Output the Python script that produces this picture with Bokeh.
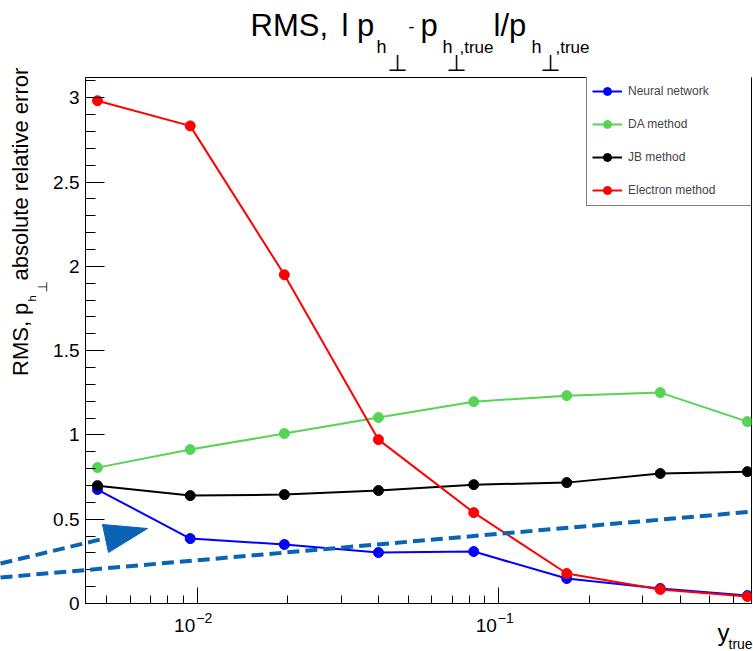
import math
from bokeh.plotting import figure
from bokeh.models import (Range1d, FixedTicker, Legend, LegendItem,
                          ColumnDataSource)
from bokeh.core.properties import value
from bokeh.embed import file_html
from bokeh.resources import INLINE

# ---------------- data ----------------
y_true = [0.00467, 0.00948, 0.01945, 0.0399, 0.0826, 0.168, 0.343, 0.667]
neural_network = [0.676, 0.385, 0.350, 0.302, 0.308, 0.148, 0.089, 0.047]
da_method = [0.806, 0.913, 1.008, 1.103, 1.197, 1.233, 1.251, 1.079]
jb_method = [0.699, 0.640, 0.646, 0.670, 0.705, 0.717, 0.771, 0.782]
electron_method = [2.982, 2.833, 1.950, 0.972, 0.539, 0.178, 0.083, 0.041]

series_values = [neural_network, da_method, jb_method, electron_method]
series_labels = ["Neural network", "DA method", "JB method", "Electron method"]
series_colors = ["#0000ff", "#57d357", "#000000", "#ff0000"]

y_tick_values = [0, 0.5, 1, 1.5, 2, 2.5, 3]
y_tick_labels = ["0", "0.5", "1", "1.5", "2", "2.5", "3"]
y_minor_values = [0.1, 0.2, 0.3, 0.4, 0.6, 0.7, 0.8, 0.9, 1.1, 1.2, 1.3, 1.4,
                  1.6, 1.7, 1.8, 1.9, 2.1, 2.2, 2.3, 2.4, 2.6, 2.7, 2.8, 2.9, 3.1]
x_tick_values = [0.01, 0.1]
x_tick_bases = ["10", "10"]
x_tick_exponents = ["\u22122", "\u22121"]
x_minor_values = [0.005, 0.006, 0.007, 0.008, 0.009,
                  0.02, 0.03, 0.04, 0.05, 0.06, 0.07, 0.08, 0.09,
                  0.2, 0.3, 0.4, 0.5, 0.6]

X_RANGE = (0.004262, 0.6885)
Y_RANGE = (0.0, 3.12)

FONT = "Liberation Sans"
SYM_FONT = "DejaVu Sans"
ANNOT_BLUE = "#0a64b4"

W, H = 753, 651
BORDER_L, BORDER_R, BORDER_T, BORDER_B = 85, 2, 77, 48
FRAME_W = W - BORDER_L - BORDER_R
FRAME_H = H - BORDER_T - BORDER_B
BASELINE_K = 0.35   # text anchor sits ~0.35 em above the alphabetic baseline

# ---------------- figure ----------------
p = figure(width=W, height=H, x_axis_type="log",
           x_range=Range1d(*X_RANGE), y_range=Range1d(*Y_RANGE),
           output_backend="svg", toolbar_location=None, title=None,
           min_border_left=BORDER_L, min_border_right=BORDER_R,
           min_border_top=BORDER_T, min_border_bottom=BORDER_B)
p.background_fill_color = "white"
p.border_fill_color = "white"
p.outline_line_color = "black"
p.outline_line_width = 1
p.grid.visible = False

for ax in (p.xaxis[0], p.yaxis[0]):
    ax.axis_line_color = "black"
    ax.axis_line_width = 1
    ax.major_tick_line_color = "black"
    ax.minor_tick_line_color = "black"
    ax.major_tick_out = 0
    ax.minor_tick_out = 0

p.yaxis.ticker = FixedTicker(ticks=y_tick_values, minor_ticks=y_minor_values)
p.yaxis.major_tick_in = 19
p.yaxis.minor_tick_in = 10
p.yaxis.major_label_overrides = dict(zip(y_tick_values, y_tick_labels))
p.yaxis.major_label_text_font = FONT
p.yaxis.major_label_text_font_size = "19px"
p.yaxis.major_label_text_color = "black"
p.yaxis.major_label_standoff = 6

p.xaxis.ticker = FixedTicker(ticks=x_tick_values, minor_ticks=x_minor_values)
p.xaxis.major_tick_in = 16
p.xaxis.minor_tick_in = 8
p.xaxis.major_label_text_color = None

# ---------------- data series ----------------
items = []
for vals, name, col in zip(series_values, series_labels, series_colors):
    lr = p.line(y_true, vals, line_color=col, line_width=2)
    sr = p.scatter(y_true, vals, size=10, marker="circle",
                   fill_color=col, line_color=col)
    items.append(LegendItem(label=name, renderers=[lr, sr]))

legend = Legend(items=items, location=(501, 397), margin=0, padding=5,
                spacing=13, glyph_width=30, glyph_height=20,
                label_height=20, label_width=118, label_standoff=6,
                label_text_font=FONT, label_text_font_size="12px",
                border_line_color="black", border_line_width=1,
                background_fill_color="white", background_fill_alpha=1.0)
p.add_layout(legend)

# ---------- helpers: frame-pixel offsets -> data space (for decorations) ----------
LX0, LX1 = math.log10(X_RANGE[0]), math.log10(X_RANGE[1])


def fx2d(fx):
    return 10 ** (LX0 + fx / FRAME_W * (LX1 - LX0))


def fy2d(fy):
    return Y_RANGE[0] + fy / FRAME_H * (Y_RANGE[1] - Y_RANGE[0])


def add_texts(pieces, align="left"):
    xs, ys = [], []
    for text, fx, fy, size, font, ang in pieces:
        px = float(size.replace("px", ""))
        # shift anchor from the alphabetic baseline to where the text is anchored
        fx_a = fx - BASELINE_K * px * math.sin(ang)
        fy_a = fy + BASELINE_K * px * math.cos(ang)
        xs.append(fx2d(fx_a))
        ys.append(fy2d(fy_a))
    src = ColumnDataSource(dict(
        x=xs, y=ys, text=[t[0] for t in pieces], size=[t[3] for t in pieces],
        font=[t[4] for t in pieces], angle=[t[5] for t in pieces]))
    p.text(x="x", y="y", text="text", source=src, text_font_size="size",
           text_font="font", angle="angle", text_align=align,
           text_baseline="alphabetic", text_color="black", level="overlay")


R90 = math.pi / 2
text_pieces = [
    # title: RMS, | p_{h⊥} - p_{h⊥,true} |/p_{h⊥,true}
    ("RMS,", 250, 567, "31px", FONT, 0.0),
    ("l p", 341, 567, "31px", FONT, 0.0),
    ("h", 376, 550, "18px", FONT, 0.0),
    ("\u22a5", 387, 532, "23px", SYM_FONT, 0.0),
    ("-", 408, 571, "18px", FONT, 0.0),
    ("p", 420, 567, "31px", FONT, 0.0),
    ("h", 442, 550, "18px", FONT, 0.0),
    ("\u22a5", 446, 532, "23px", SYM_FONT, 0.0),
    (",true", 459, 550, "17px", FONT, 0.0),
    ("l/p", 493, 567, "31px", FONT, 0.0),
    ("h", 531, 550, "18px", FONT, 0.0),
    ("\u22a5", 540, 532, "23px", SYM_FONT, 0.0),
    (",true", 555, 550, "17px", FONT, 0.0),
]
# pieces above are in page pixels horizontally; convert to frame offsets
text_pieces = [(t, x - BORDER_L, y, s, f, a) for t, x, y, s, f, a in text_pieces]
text_pieces += [
    # y axis title: RMS, p_{h⊥} absolute relative error
    ("RMS, p", -57.5, 227.5, "22px", FONT, R90),
    ("h", -50, 302, "11px", FONT, R90),
    ("\u22a5", -38, 311, "13px", SYM_FONT, R90),
    (" absolute relative error", -57.5, 323, "22px", FONT, R90),
    # x axis title: y_true
    ("y", 632, -37, "24px", FONT, 0.0),
    ("true", 643, -45, "14px", FONT, 0.0),
]
add_texts(text_pieces)

# x tick labels 10^n (positioned at the tick values)
base_src = ColumnDataSource(dict(
    x=x_tick_values, y=[fy2d(-29 + BASELINE_K * 19)] * len(x_tick_values),
    text=x_tick_bases))
p.text(x="x", y="y", text="text", source=base_src, text_align="right",
       x_offset=-2, text_baseline="alphabetic", text_font=value(FONT),
       text_font_size="19px", text_color="black", level="overlay")
exp_src = ColumnDataSource(dict(
    x=x_tick_values, y=[fy2d(-19 + BASELINE_K * 14)] * len(x_tick_values),
    text=x_tick_exponents))
p.text(x="x", y="y", text="text", source=exp_src, text_align="left",
       x_offset=-1, text_baseline="alphabetic", text_font=value(FONT),
       text_font_size="14px", text_color="black", level="overlay")

# ---------------- dashed arrow annotation ----------------
p.line([fx2d(-85), fx2d(19)], [fy2d(40), fy2d(65)], line_color=ANNOT_BLUE,
       line_width=4, line_dash="12 6", level="overlay")
p.patch([fx2d(17), fx2d(62), fx2d(23)], [fy2d(79), fy2d(75), fy2d(51)],
        fill_color=ANNOT_BLUE, line_color=ANNOT_BLUE, line_width=1,
        level="overlay")
p.line([fx2d(-85), fx2d(668)], [fy2d(26), fy2d(92)], line_color=ANNOT_BLUE,
       line_width=4, line_dash="12 6", level="overlay")

open("out.html", "w").write(file_html(p, INLINE))
